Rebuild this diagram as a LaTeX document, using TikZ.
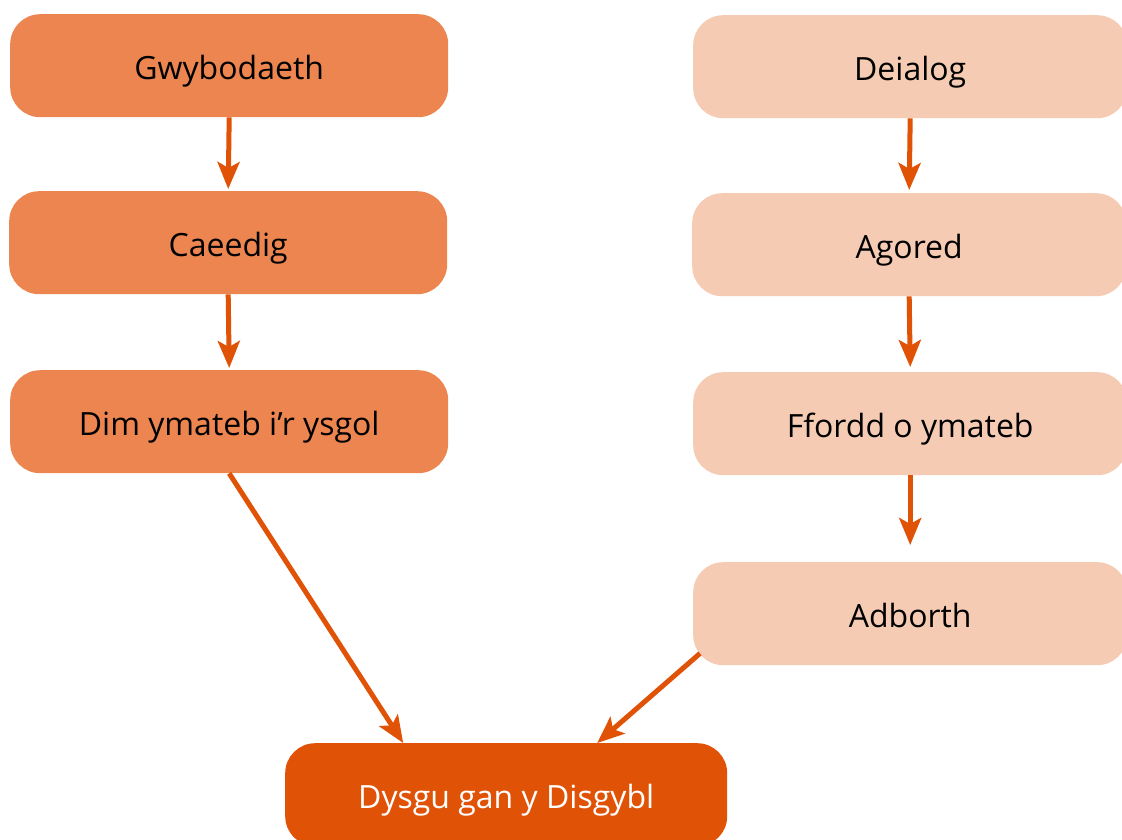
\documentclass[tikz,border=0pt]{standalone}
\usepackage{fontspec}
\setmainfont{Open Sans}
\usetikzlibrary{arrows.meta,calc}
\definecolor{orangeA}{HTML}{EC8550}
\definecolor{peach}{HTML}{F5CBB3}
\definecolor{deep}{HTML}{E05206}
\begin{document}
\begin{tikzpicture}[x=1pt,y=-1pt,
  box/.style={rounded corners=30pt, minimum width=438pt, minimum height=103pt,
    inner sep=0pt, font=\fontsize{32}{38}\selectfont, text height=27pt, text depth=0pt,
    anchor=north west},
  leftbox/.style={box, fill=orangeA, text=black},
  rightbox/.style={box, fill=peach, text=black, minimum width=434pt},
  finalbox/.style={box, fill=deep, text=white, minimum width=442pt},
  conn/.style={draw=deep, line width=5pt,
    -{Stealth[length=27pt,width=22pt,inset=6pt]}}
]
\useasboundingbox (0,0) rectangle (1122,840);
\node[leftbox] (g) at (10,14) {Gwybodaeth};
\node[leftbox] (c) at (9,191) {Caeedig};
\node[leftbox] (d) at (10,370) {Dim ymateb i’r ysgol};
\node[rightbox] (de) at (693,15) {Deialog};
\node[rightbox] (ag) at (692,193) {Agored};
\node[rightbox] (ff) at (693,372) {Ffordd o ymateb};
\node[rightbox] (ad) at (693,562) {Adborth};
\node[finalbox] (b) at (285,743) {Dysgu gan y Disgybl};
\coordinate (ce) at ($(c.north)+(0,-2)$);
\coordinate (de2) at ($(d.north)+(0,-2)$);
\coordinate (age) at ($(ag.north)+(0,-3)$);
\coordinate (ffe) at ($(ff.north)+(0,-5)$);
\coordinate (ade) at ($(ad.north)+(0,-17)$);
\coordinate (adstart) at ($(ad.south west)+(7,-12)$);
\coordinate (bl) at ($(b.north)+(-103,0)$);
\coordinate (br) at ($(b.north)+(91,0)$);
\draw[conn] (g.south) -- (ce);
\draw[conn] (c.south) -- (de2);
\draw[conn] (de.south) -- (age);
\draw[conn] (ag.south) -- (ffe);
\draw[conn] (ff.south) -- (ade);
\draw[conn] (d.south) -- (bl);
\draw[conn] (adstart) -- (br);
\end{tikzpicture}
\end{document}
